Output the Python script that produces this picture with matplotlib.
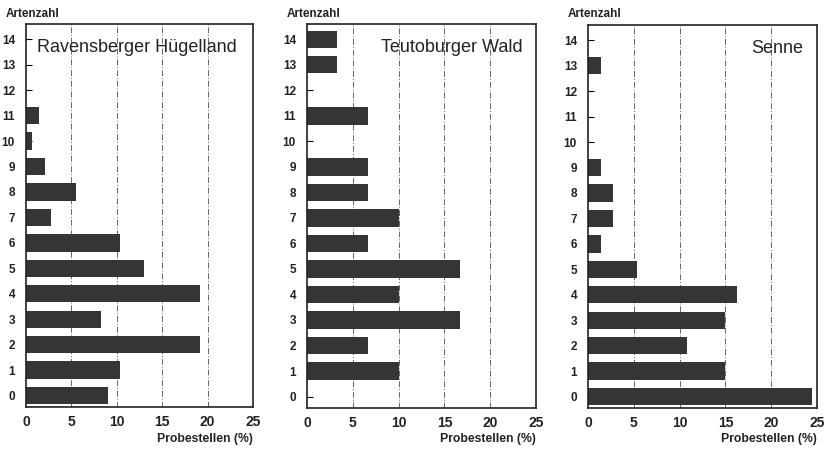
import matplotlib
matplotlib.use("Agg")
import matplotlib.pyplot as plt

plt.rcParams['font.family'] = ['Liberation Sans', 'DejaVu Sans']

artenzahl = list(range(15))
titles = ['Ravensberger Hügelland', 'Teutoburger Wald', 'Senne']

# Probestellen (%) per Artenzahl 0..14
ravensberg = [9.0, 10.4, 19.2, 8.3, 19.2, 13.0, 10.4, 2.7, 5.5, 2.1, 0.7, 1.4, 0, 0, 0]
teutoburg = [0, 10.0, 6.7, 16.7, 10.0, 16.7, 6.7, 10.0, 6.7, 6.7, 0, 6.7, 0, 3.3, 3.3]
senne = [24.5, 15.0, 10.8, 15.0, 16.3, 5.4, 1.4, 2.7, 2.7, 1.4, 0, 0, 0, 1.4, 0]

x_ticks = [0, 5, 10, 15, 20, 25]
grid_vals = [5, 10, 15, 20]

W, H = 831, 449
fig = plt.figure(figsize=(W / 100, H / 100), dpi=100)

# axes boxes in pixels: left, top, right, bottom
boxes = [(26, 24, 253, 407), (307, 24, 536, 408), (588, 25, 817, 408)]
title_pos = [(0.05, 'left'), (0.94, 'right'), (0.94, 'right')]

for data, title, box, (tx, ha) in zip([ravensberg, teutoburg, senne], titles, boxes, title_pos):
    l, t, r, b = box
    ax = fig.add_axes([l / W, 1 - b / H, (r - l) / W, (b - t) / H])
    for g in grid_vals:
        ax.axvline(g, color='#666666', lw=0.7, ls=(0, (6, 2, 1, 2)), zorder=1)
    ax.barh(artenzahl, data, height=0.68, color='#353535', zorder=2)
    ax.set_xlim(0, 25)
    ax.set_ylim(-0.45, 14.6)
    ax.set_yticks(artenzahl)
    ax.set_xticks(x_ticks)
    ax.tick_params(axis='y', direction='in', length=4, pad=8, labelsize=8.5)
    ax.tick_params(axis='x', length=0, pad=6, labelsize=10)
    for lab in ax.get_xticklabels() + ax.get_yticklabels():
        lab.set_fontweight('bold')
        lab.set_color('#222222')
    for sp in ax.spines.values():
        sp.set_linewidth(1.2)
        sp.set_color('#222222')
    ax.text(tx, 13.66, title, transform=ax.get_yaxis_transform(),
            fontsize=13, ha=ha, va='center', color='#222222')
    # "Artenzahl" above the y tick labels, "Probestellen (%)" below the x axis
    fig.text((l - 20) / W, 1 - 14 / H, 'Artenzahl', fontsize=8.5, fontweight='bold',
             ha='left', va='center', color='#222222')
    fig.text(r / W, 1 - 439 / H, 'Probestellen (%)', fontsize=8.8, fontweight='bold',
             ha='right', va='center', color='#222222')

fig.savefig('out.png', dpi=100)
